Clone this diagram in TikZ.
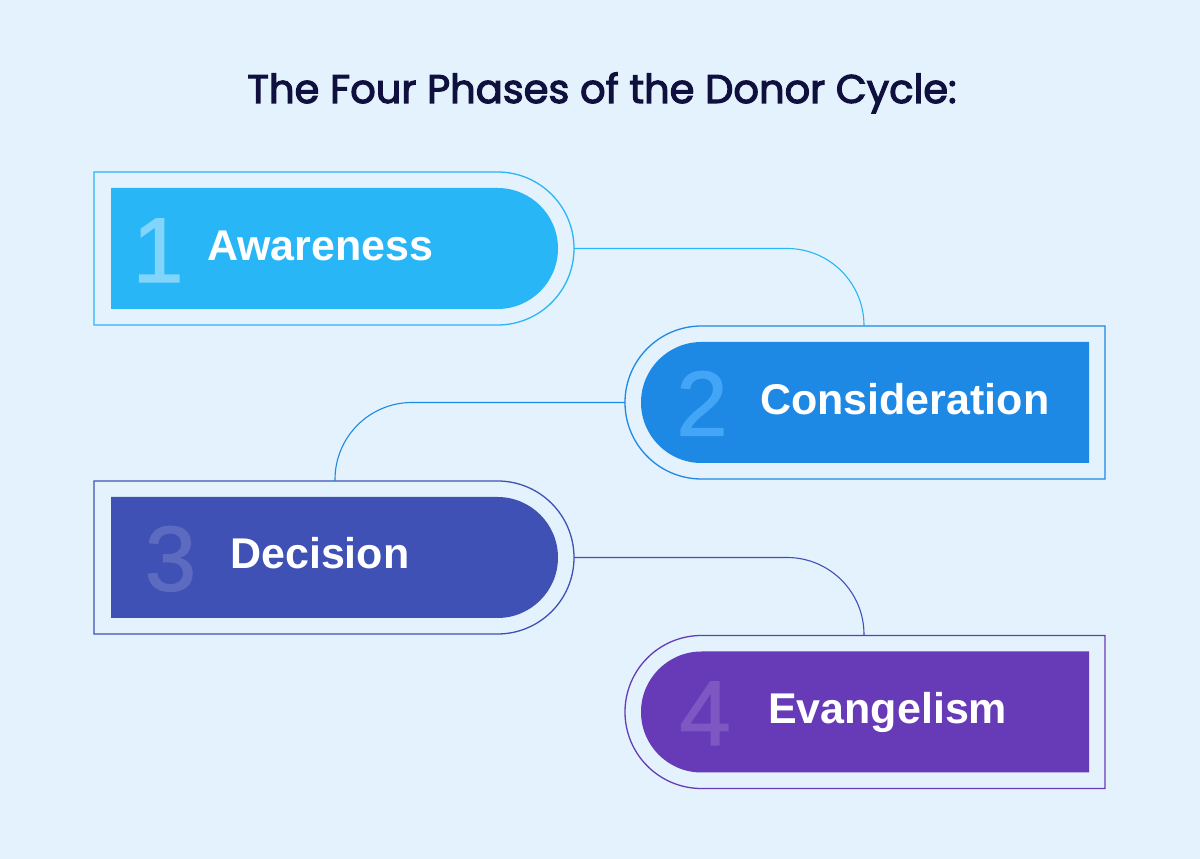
\documentclass[tikz,border=0pt]{standalone}
\usepackage{fontspec}
\setmainfont{Liberation Sans}
\newfontfamily\titlefont[FakeBold=2.8]{Poppins}
\newfontfamily\numfont[FakeBold=1.4]{Liberation Sans}
\usepackage{xcolor}
\usetikzlibrary{positioning}

\definecolor{bgblue}{HTML}{E3F2FD}
\definecolor{navy}{HTML}{10103F}
\definecolor{phaseA}{HTML}{29B6F6}
\definecolor{numA}{HTML}{81D4FA}
\definecolor{phaseB}{HTML}{1E88E5}
\definecolor{numB}{HTML}{42A5F5}
\definecolor{phaseC}{HTML}{3F51B5}
\definecolor{numC}{HTML}{5C6BC0}
\definecolor{phaseD}{HTML}{673AB7}
\definecolor{numD}{HTML}{7E57C2}

\tikzset{
  frame/.style={line width=1.3pt, fill=bgblue},
  link/.style={line width=1.1pt, rounded corners=77pt},
  phasenum/.style={anchor=base, inner sep=0pt, font=\numfont\fontsize{92}{92}\selectfont},
  phasetext/.style={anchor=base west, inner sep=0pt, text=white,
    font=\fontsize{43}{43}\selectfont\bfseries},
}

\begin{document}
\begin{tikzpicture}[x=1pt, y=1pt]
\fill[bgblue] (0,0) rectangle (1200,859);
\useasboundingbox (0,0) rectangle (1200,859);

\node[text=navy, font=\titlefont\fontsize{40}{40}\selectfont, anchor=base] (title) at (602,756)
  {The Four Phases of the Donor Cycle:};

% phase 1
\draw[frame, draw=phaseA] (94,687) -- (497.5,687) arc[start angle=90, end angle=-90, radius=76.5] -- (94,534) -- cycle;
\fill[phaseA] (111,671) -- (497.5,671) arc[start angle=90, end angle=-90, radius=60.5] -- (111,550) -- cycle;
\node[phasenum, text=numA] (n1) at (158,577) {1};
\node[phasetext] (l1) at (207,598) {Awareness};
\coordinate (a1) at (574,610.5);

% phase 2
\draw[frame, draw=phaseB] (1105,533) -- (701.5,533) arc[start angle=90, end angle=270, radius=76.5] -- (1105,380) -- cycle;
\fill[phaseB] (1089,517) -- (701.5,517) arc[start angle=90, end angle=270, radius=60.5] -- (1089,396) -- cycle;
\node[phasenum, text=numB] (n2) at (702,423.5) {2};
\node[phasetext] (l2) at (760,444) {Consideration};
\coordinate (t2) at (864,533);
\coordinate (a2) at (625,456.5);

% phase 3
\draw[frame, draw=phaseC] (94,378) -- (497.5,378) arc[start angle=90, end angle=-90, radius=76.5] -- (94,225) -- cycle;
\fill[phaseC] (111,362) -- (497.5,362) arc[start angle=90, end angle=-90, radius=60.5] -- (111,241) -- cycle;
\node[phasenum, text=numC] (n3) at (170.5,268.5) {3};
\node[phasetext] (l3) at (230,290) {Decision};
\coordinate (t3) at (335,378);
\coordinate (a3) at (574,301.5);

% phase 4
\draw[frame, draw=phaseD] (1105,223.5) -- (701.5,223.5) arc[start angle=90, end angle=270, radius=76.5] -- (1105,70.5) -- cycle;
\fill[phaseD] (1089,207.5) -- (701.5,207.5) arc[start angle=90, end angle=270, radius=60.5] -- (1089,86.5) -- cycle;
\node[phasenum, text=numD] (n4) at (705,114) {4};
\node[phasetext] (l4) at (768,135) {Evangelism};
\coordinate (t4) at (864,223.5);

% links between phases
\draw[link, phaseA] (a1) -| (t2);
\draw[link, phaseB] (a2) -| (t3);
\draw[link, phaseC] (a3) -| (t4);
\end{tikzpicture}
\end{document}
